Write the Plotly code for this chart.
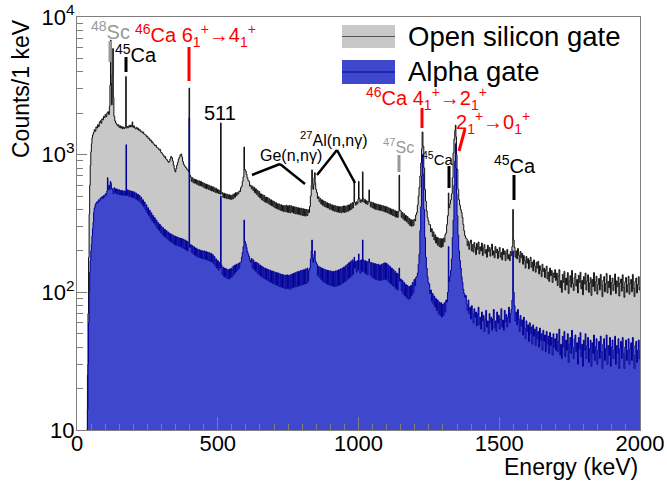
import plotly.graph_objects as go

# ---------------- data ----------------
# Open silicon gate spectrum: (energy keV, counts per 1 keV)
open_gate = [
(35,10),(37,25),(39,70),(41,180),(43,370),(45,600),(47,840),(49,1050),(51,1200),(53,1320),(55,1390),(58,1450),
(61,1520),(64,1480),(67,1590),(70,1560),(73,1650),(76,1600),(79,1720),(82,1760),(85,1690),(88,1820),(91,1790),
(94,1900),(97,1860),(100,1960),(103,1890),(106,2010),(109,2050),(112,1960),(115,2250),(117,3200),(119,6800),
(121,3300),(123,2300),(125,3800),(127,5900),(129,2600),(131,1900),(134,1760),(137,1700),(140,1660),(143,1620),
(146,1650),(149,1580),(152,1620),(155,1560),(158,1600),(161,1540),(164,1590),(167,1550),(170,1580),(173,3690),
(175,1560),(178,1600),(181,1570),(184,1630),(187,1590),(190,1640),(193,1600),(196,1730),(198,1580),(201,1620),
(204,1570),(207,1540),(210,1580),(213,1530),(216,1560),(219,1500),(222,1520),(225,1470),(228,1480),(231,1440),
(234,1460),(237,1410),(240,1400),(243,1390),(246,1350),(249,1360),(252,1310),(255,1320),(258,1270),(261,1280),
(264,1230),(267,1240),(270,1200),(273,1190),(276,1160),(279,1170),(282,1130),(285,1120),(288,1110),(291,1080),
(294,1090),(297,1040),(300,1030),(303,1010),(306,990),(309,960),(312,970),(315,930),(318,920),(321,900),(324,880),
(327,890),(330,930),(333,970),(336,950),(339,900),(342,840),(345,790),(348,750),(351,790),(354,840),(357,880),
(360,930),(363,960),(366,1000),(369,1010),(372,960),(375,890),(378,850),(381,830),(384,815),(387,800),(390,780),
(393,770),(396,750),(398,3050),(400,710),(403,690),(406,640),(409,680),(412,625),(415,665),(418,620),(421,660),
(424,610),(427,650),(430,600),(433,645),(436,595),(439,640),(442,590),(445,628),(448,580),(451,620),(454,570),
(457,612),(460,565),(463,605),(466,560),(469,598),(472,552),(475,590),(478,545),(481,585),(484,540),(487,575),
(490,532),(493,570),(496,528),(499,560),(502,522),(505,548),(508,515),(510,1700),(512,520),(515,530),(518,490),
(521,525),(524,485),(527,520),(530,480),(533,515),(536,478),(539,512),(542,475),(545,508),(548,472),(551,510),
(554,480),(557,520),(560,490),(563,530),(566,505),(569,530),(572,520),(575,545),(578,540),(581,575),(584,590),
(587,640),(590,690),(593,1137),(595,780),(598,760),(601,720),(604,680),(607,650),(610,640),(613,590),(616,600),
(619,565),(622,590),(625,548),(628,580),(631,528),(634,565),(637,515),(640,552),(643,498),(646,540),(649,485),
(652,520),(655,470),(658,512),(661,462),(664,505),(667,452),(670,492),(673,448),(676,488),(679,440),(682,478),
(685,432),(688,470),(691,425),(694,462),(697,418),(700,455),(703,410),(706,448),(709,405),(712,440),(715,400),
(718,438),(721,395),(724,432),(727,390),(730,428),(733,385),(736,425),(739,388),(742,430),(745,382),(748,425),
(751,380),(754,428),(757,378),(760,425),(763,382),(766,420),(769,375),(772,418),(775,372),(778,415),(781,370),
(784,412),(787,368),(790,410),(793,365),(796,408),(799,362),(802,405),(805,360),(808,402),(811,358),(814,400),
(817,362),(820,398),(823,380),(826,420),(829,500),(832,600),(834,775),(836,620),(838,560),(840,600),(842,680),
(844,740),(846,620),(848,560),(851,530),(854,480),(857,495),(860,455),(863,480),(866,438),(869,470),(872,428),
(875,462),(878,420),(881,455),(884,415),(887,448),(890,410),(893,442),(896,402),(899,438),(902,398),(905,432),
(908,392),(911,428),(914,388),(917,425),(920,385),(923,422),(926,382),(929,420),(932,380),(935,418),(938,378),
(941,420),(944,382),(947,425),(950,380),(953,422),(956,385),(959,428),(962,388),(965,432),(968,395),(971,440),
(974,402),(977,448),(980,410),(982,445),(984,655),(986,450),(989,430),(992,455),(995,440),(998,475),(1000,640),
(1002,480),(1005,450),(1008,470),(1011,455),(1014,750),(1016,480),(1019,450),(1022,472),(1025,440),(1028,462),
(1031,435),(1034,455),(1037,555),(1039,455),(1042,418),(1045,452),(1048,412),(1051,448),(1054,405),(1057,442),
(1060,400),(1063,438),(1066,398),(1069,435),(1072,395),(1075,432),(1078,392),(1081,428),(1084,390),(1087,425),
(1090,386),(1093,422),(1096,382),(1099,418),(1102,378),(1105,412),(1108,372),(1111,408),(1114,368),(1117,402),
(1120,362),(1123,398),(1126,358),(1129,392),(1132,352),(1135,388),(1138,350),(1141,385),(1144,710),(1146,395),
(1149,390),(1152,350),(1155,380),(1158,340),(1161,372),(1164,332),(1167,362),(1170,325),(1173,355),(1176,315),
(1179,345),(1182,305),(1185,338),(1188,302),(1191,335),(1194,305),(1197,340),(1200,330),(1203,365),(1206,380),
(1209,430),(1212,500),(1215,580),(1218,700),(1221,870),(1224,1100),(1226,1460),(1229,1150),(1232,800),(1235,560),
(1238,460),(1241,390),(1244,350),(1247,330),(1250,310),(1253,310),(1256,275),(1259,290),(1262,255),(1265,275),
(1268,240),(1271,262),(1274,228),(1277,252),(1280,220),(1283,248),(1286,215),(1289,245),(1292,212),(1295,245),
(1298,215),(1301,248),(1304,232),(1307,262),(1310,270),(1313,310),(1316,360),(1319,527),(1321,410),(1324,440),
(1327,470),(1330,520),(1333,680),(1336,1030),(1339,1300),(1342,1500),(1344,1640),(1346,1350),(1348,1000),
(1350,780),(1353,560),(1356,470),(1359,430),(1362,400),(1365,380),(1368,350),(1371,310),(1374,280),(1377,258),
(1380,248),(1383,245),(1386,218),(1389,236),(1392,205),(1395,228),(1398,240),(1401,200),(1404,222),(1407,196),
(1410,230),(1413,212),(1416,188),(1419,226),(1422,205),(1425,232),(1428,190),(1431,214),(1434,200),(1437,228),
(1440,185),(1443,210),(1446,222),(1449,192),(1452,205),(1455,180),(1458,220),(1461,198),(1464,212),(1467,183),
(1470,206),(1473,224),(1476,186),(1479,200),(1482,178),(1485,215),(1488,194),(1491,206),(1494,176),(1497,198),
(1500,212),(1503,180),(1506,195),(1509,172),(1512,208),(1515,188),(1518,200),(1521,170),(1524,192),(1527,205),
(1530,175),(1533,188),(1536,170),(1539,198),(1542,185),(1545,215),(1548,400),(1550,240),(1553,212),(1556,180),
(1559,200),(1562,175),(1565,208),(1568,186),(1571,165),(1574,198),(1577,178),(1580,192),(1583,160),(1586,185),
(1589,170),(1592,150),(1595,182),(1598,163),(1601,176),(1604,148),(1607,170),(1610,180),(1613,152),(1616,166),
(1619,143),(1622,172),(1625,155),(1628,140),(1631,165),(1634,150),(1637,168),(1640,136),(1643,156),(1646,145),
(1649,130),(1652,160),(1655,142),(1658,150),(1661,128),(1664,146),(1667,155),(1670,125),(1673,140),(1676,120),
(1679,150),(1682,132),(1685,144),(1688,118),(1691,138),(1694,128),(1697,146),(1700,122),(1703,138),(1706,112),
(1709,131),(1712,146),(1715,108),(1718,122),(1721,100),(1724,135),(1727,118),(1730,142),(1733,104),(1736,127),
(1739,113),(1742,139),(1745,98),(1748,121),(1751,132),(1754,109),(1757,144),(1760,116),(1763,103),(1766,128),
(1769,137),(1772,111),(1775,124),(1778,99),(1781,133),(1784,118),(1787,140),(1790,106),(1793,122),(1796,96),
(1799,130),(1802,115),(1805,138),(1808,104),(1811,121),(1814,134),(1817,100),(1820,117),(1823,128),(1826,95),
(1829,124),(1832,110),(1835,139),(1838,102),(1841,119),(1844,131),(1847,97),(1850,114),(1853,126),(1856,104),
(1859,135),(1862,112),(1865,93),(1868,122),(1871,130),(1874,101),(1877,116),(1880,137),(1883,99),(1886,120),
(1889,108),(1892,133),(1895,96),(1898,118),(1901,127),(1904,103),(1907,114),(1910,136),(1913,98),(1916,121),
(1919,110),(1922,129),(1925,94),(1928,117),(1931,125),(1934,102),(1937,134),(1940,109),(1943,92),(1946,119),
(1949,128),(1952,100),(1955,113),(1958,131),(1961,97),(1964,116),(1967,124),(1970,101),(1973,135),(1976,107),
(1979,93),(1982,120),(1985,127),(1988,99),(1991,114),(1994,130),(1997,104),(2000,110),
]

# Alpha gate spectrum: (energy keV, counts per 1 keV)
alpha_gate = [
(35,10),(37,14),(39,30),(41,60),(43,100),(45,140),(47,170),(49,200),(51,225),(53,255),(55,290),(57,324),(59,380),
(61,410),(64,433),(67,445),(70,455),(73,448),(76,470),(79,462),(82,485),(85,478),(88,495),(91,482),(94,505),
(97,495),(100,520),(103,510),(106,545),(108,680),(110,560),(113,600),(115,560),(118,640),(120,620),(122,570),
(125,560),(128,520),(131,575),(134,530),(137,565),(140,520),(143,560),(146,515),(149,555),(152,510),(155,550),
(158,508),(161,548),(164,505),(167,545),(170,505),(172,540),(174,1180),(176,505),(179,555),(182,500),(185,548),
(188,495),(191,545),(194,490),(197,540),(200,485),(203,535),(206,478),(209,525),(212,470),(215,515),(218,462),
(221,505),(224,450),(227,490),(230,435),(233,470),(236,418),(239,452),(242,398),(245,432),(248,378),(251,412),
(254,360),(257,395),(260,345),(263,378),(266,330),(269,362),(272,318),(275,348),(278,305),(281,335),(284,292),
(287,322),(290,282),(293,312),(296,272),(299,302),(302,264),(305,294),(308,256),(311,286),(314,250),(317,280),
(320,244),(323,274),(326,238),(329,268),(332,233),(335,264),(338,228),(341,260),(344,224),(347,256),(350,220),
(353,253),(356,218),(359,250),(362,216),(365,248),(368,214),(371,246),(374,210),(377,243),(380,207),(383,240),
(386,203),(389,236),(392,200),(395,230),(398,1850),(400,212),(403,222),(406,195),(409,218),(412,190),(415,214),
(418,186),(421,210),(424,182),(427,206),(430,180),(433,204),(436,178),(439,202),(442,176),(445,200),(448,175),
(451,200),(454,174),(457,198),(460,172),(463,196),(466,170),(469,194),(472,168),(475,192),(478,166),(481,188),
(484,162),(487,182),(490,155),(493,175),(496,150),(499,170),(502,145),(505,165),(508,150),(510,500),(512,158),
(515,135),(518,152),(521,130),(524,150),(527,128),(530,148),(533,126),(536,146),(539,125),(542,148),(545,128),
(548,150),(551,130),(554,155),(557,135),(560,158),(563,140),(566,160),(569,145),(572,162),(575,150),(578,165),
(581,165),(584,180),(587,195),(590,215),(593,335),(595,235),(598,225),(601,212),(604,198),(607,190),(610,182),
(613,172),(616,165),(619,176),(622,150),(625,172),(628,146),(631,166),(634,142),(637,165),(640,138),(643,162),
(646,134),(649,158),(652,131),(655,155),(658,128),(661,152),(664,126),(667,150),(670,124),(673,148),(676,122),
(679,146),(682,120),(685,145),(688,118),(691,143),(694,116),(697,142),(700,115),(703,140),(706,113),(709,139),
(712,112),(715,138),(718,110),(721,136),(724,109),(727,135),(730,108),(733,134),(736,107),(739,133),(742,106),
(745,134),(748,107),(751,133),(754,105),(757,134),(760,107),(763,136),(766,108),(769,138),(772,109),(775,139),
(778,110),(781,141),(784,111),(787,142),(790,112),(793,144),(796,113),(799,145),(802,114),(805,146),(808,115),
(811,148),(814,116),(817,150),(820,120),(823,145),(826,150),(829,175),(832,200),(834,240),(836,180),(838,165),
(840,175),(842,190),(844,200),(846,170),(848,165),(851,160),(854,132),(857,155),(860,128),(863,152),(866,124),
(869,150),(872,120),(875,148),(878,118),(881,146),(884,116),(887,145),(890,114),(893,144),(896,113),(899,143),
(902,112),(905,142),(908,111),(911,142),(914,110),(917,143),(920,111),(923,144),(926,112),(929,146),(932,113),
(935,148),(938,115),(941,150),(944,117),(947,153),(950,119),(953,156),(956,122),(959,160),(962,125),(965,164),
(968,128),(971,168),(974,132),(977,172),(980,135),(982,165),(984,180),(986,150),(989,168),(992,140),(995,170),
(998,145),(1000,190),(1002,168),(1005,138),(1008,172),(1011,142),(1014,240),(1016,172),(1019,140),(1022,170),
(1025,136),(1028,168),(1031,134),(1034,166),(1037,175),(1039,165),(1042,132),(1045,165),(1048,128),(1051,163),
(1054,126),(1057,162),(1060,124),(1063,160),(1066,123),(1069,160),(1072,122),(1075,158),(1078,122),(1081,160),
(1084,123),(1087,162),(1090,124),(1093,164),(1096,124),(1099,162),(1102,122),(1105,158),(1108,118),(1111,154),
(1114,115),(1117,150),(1120,112),(1123,146),(1126,110),(1129,142),(1132,106),(1135,138),(1138,104),(1141,135),
(1144,150),(1146,120),(1149,125),(1152,102),(1155,122),(1158,97),(1161,118),(1164,94),(1167,114),(1170,91),
(1173,112),(1176,89),(1179,110),(1182,90),(1185,112),(1188,95),(1191,118),(1194,100),(1197,124),(1200,112),
(1203,128),(1206,130),(1209,138),(1212,160),(1215,190),(1218,280),(1221,420),(1224,700),(1226,1000),(1229,720),
(1232,400),(1235,250),(1238,180),(1241,150),(1244,130),(1247,118),(1250,115),(1253,98),(1256,104),(1259,86),
(1262,98),(1265,82),(1268,94),(1271,78),(1274,90),(1277,74),(1280,88),(1283,70),(1286,85),(1289,68),(1292,84),
(1295,66),(1298,82),(1301,68),(1304,84),(1307,72),(1310,88),(1313,85),(1316,100),(1319,215),(1321,120),(1324,130),
(1327,145),(1330,175),(1333,250),(1336,335),(1339,600),(1342,900),(1344,1200),(1346,800),(1348,520),(1350,360),
(1353,260),(1356,200),(1359,170),(1362,150),(1365,130),(1368,118),(1371,105),(1374,98),(1377,92),(1380,95),
(1383,82),(1386,74),(1389,88),(1392,70),(1395,78),(1398,64),(1401,80),(1404,70),(1407,60),(1410,76),(1413,66),
(1416,72),(1419,57),(1422,70),(1425,78),(1428,58),(1431,66),(1434,54),(1437,72),(1440,62),(1443,68),(1446,52),
(1449,64),(1452,74),(1455,56),(1458,62),(1461,50),(1464,70),(1467,60),(1470,66),(1473,53),(1476,64),(1479,75),
(1482,55),(1485,62),(1488,52),(1491,72),(1494,60),(1497,68),(1500,54),(1503,64),(1506,76),(1509,56),(1512,63),
(1515,53),(1518,74),(1521,61),(1524,69),(1527,56),(1530,66),(1533,78),(1536,60),(1539,70),(1542,75),(1545,88),
(1548,200),(1550,100),(1553,80),(1556,62),(1559,72),(1562,58),(1565,75),(1568,64),(1571,52),(1574,68),(1577,57),
(1580,63),(1583,49),(1586,66),(1589,55),(1592,46),(1595,62),(1598,52),(1601,58),(1604,44),(1607,60),(1610,50),
(1613,56),(1616,42),(1619,58),(1622,48),(1625,54),(1628,41),(1631,56),(1634,46),(1637,52),(1640,40),(1643,55),
(1646,45),(1649,50),(1652,38),(1655,53),(1658,44),(1661,49),(1664,37),(1667,52),(1670,42),(1673,48),(1676,36),
(1679,51),(1682,41),(1685,47),(1688,35),(1691,50),(1694,40),(1697,46),(1700,38),(1703,50),(1706,37),(1709,44),
(1712,54),(1715,35),(1718,42),(1721,33),(1724,48),(1727,40),(1730,52),(1733,34),(1736,45),(1739,38),(1742,50),
(1745,31),(1748,42),(1751,47),(1754,36),(1757,53),(1760,40),(1763,33),(1766,46),(1769,49),(1772,37),(1775,43),
(1778,30),(1781,47),(1784,39),(1787,51),(1790,34),(1793,42),(1796,29),(1799,45),(1802,38),(1805,50),(1808,33),
(1811,41),(1814,47),(1817,31),(1820,39),(1823,45),(1826,29),(1829,43),(1832,36),(1835,49),(1838,32),(1841,40),
(1844,46),(1847,30),(1850,38),(1853,44),(1856,33),(1859,48),(1862,37),(1865,28),(1868,42),(1871,46),(1874,32),
(1877,39),(1880,49),(1883,30),(1886,41),(1889,35),(1892,47),(1895,29),(1898,40),(1901,45),(1904,33),(1907,38),
(1910,48),(1913,30),(1916,41),(1919,36),(1922,46),(1925,28),(1928,39),(1931,44),(1934,33),(1937,47),(1940,36),
(1943,28),(1946,40),(1949,45),(1952,32),(1955,38),(1958,46),(1961,30),(1964,39),(1967,43),(1970,32),(1973,47),
(1976,35),(1979,28),(1982,41),(1985,44),(1988,31),(1991,38),(1994,45),(1997,33),(2000,38),
]

series_names = ["Open silicon gate", "Alpha gate"]
x_tick_values = [0, 500, 1000, 1500, 2000]
x_tick_labels = ["0", "500", "1000", "1500", "2000"]
y_tick_values = [10, 100, 1000, 10000]
y_tick_labels = ["10", "10<sup>2</sup>", "10<sup>3</sup>", "10<sup>4</sup>"]
y_minor_values = [m * d for d in (10, 100, 1000) for m in range(2, 10)]

open_E = [p[0] for p in open_gate]
open_counts = [p[1] for p in open_gate]
alpha_E = [p[0] for p in alpha_gate]
alpha_counts = [p[1] for p in alpha_gate]

# ---------------- figure ----------------
FONT = "Liberation Sans, Arial, Helvetica, sans-serif"
GRAY_FILL = "#c8c8c8"
BLUE_FILL = "#3f48cc"
BLUE_LINE = "#000099"
AX = "#7f7f7f"
RED = "#ff0000"
LABEL_GRAY = "#999999"

fig = go.Figure()
fig.add_trace(go.Scatter(x=open_E, y=open_counts, mode="lines", line_shape="hv",
                         line=dict(color="#111111", width=1), fill="tozeroy",
                         fillcolor=GRAY_FILL, name=series_names[0]))
fig.add_trace(go.Scatter(x=alpha_E, y=alpha_counts, mode="lines", line_shape="hv",
                         line=dict(color=BLUE_LINE, width=1), fill="tozeroy",
                         fillcolor=BLUE_FILL, name=series_names[1]))

L, R, T, B = 77, 640, 17, 430
W, H = 667, 483


def px(x):
    return (x - L) / (R - L)


def py(y):
    return (B - y) / (B - T)


annotations = []
shapes = []


def label(text, x, y, size, color="black", xanchor="center"):
    annotations.append(dict(text=text, x=px(x), y=py(y), xref="paper", yref="paper",
                            showarrow=False, xanchor=xanchor, yanchor="middle",
                            font=dict(family=FONT, size=size, color=color)))


def seg(x0, y0, x1, y1, color="black", width=3):
    shapes.append(dict(type="line", xref="paper", yref="paper", x0=px(x0), y0=py(y0),
                       x1=px(x1), y1=py(y1), line=dict(color=color, width=width)))


# peak labels
label("<sup>48</sup>Sc", 110, 30, 20, LABEL_GRAY)
seg(110, 41, 110, 62, LABEL_GRAY)
label("<sup>45</sup>Ca", 136, 53, 20)
seg(126, 57, 126, 72)
label("<sup>46</sup>Ca 6<sub>1</sub><sup>+</sup>→4<sub>1</sub><sup>+</sup>", 195, 35, 20, RED)
seg(189, 47, 189, 81, RED)
label("511", 220, 113, 20)
label("Ge(n,nγ)", 291, 155, 16)
seg(252, 175, 280, 164, width=2.5)
seg(280, 164, 305, 184, width=2.5)
label("<sup>27</sup>Al(n,nγ)", 334, 139, 16)
seg(317, 175, 337, 150, width=2.5)
seg(337, 150, 355, 183, width=2.5)
label("<sup>47</sup>Sc", 398, 146, 16, LABEL_GRAY)
seg(399, 155, 399, 172, LABEL_GRAY)
label("<sup>46</sup>Ca 4<sub>1</sub><sup>+</sup>→2<sub>1</sub><sup>+</sup>", 426, 98, 20, RED)
seg(422, 108, 422, 128, RED)
label("2<sub>1</sub><sup>+</sup>→0<sub>1</sub><sup>+</sup>", 493, 122, 20, RED)
seg(465, 129, 459, 151, RED)
label("<sup>45</sup>Ca", 438, 158, 15)
seg(449, 166, 449, 188)
label("<sup>45</sup>Ca", 515, 164, 20)
seg(514, 175, 514, 200)

# legend (drawn manually to match swatch size)
for (y0, y1, ty, fillc, linec, name) in [(25, 48, 36, GRAY_FILL, "#555555", series_names[0]),
                                         (60, 84, 71, BLUE_FILL, BLUE_LINE, series_names[1])]:
    shapes.append(dict(type="rect", xref="paper", yref="paper", x0=px(342), x1=px(395),
                       y0=py(y1), y1=py(y0), fillcolor=fillc, line=dict(width=0)))
    seg(342, (y0 + y1) / 2, 395, (y0 + y1) / 2, linec, 1)
    label(name, 406, ty, 27.5, "black", xanchor="left")

# axis titles
annotations.append(dict(text="Energy (keV)", x=1.0, y=py(467), xref="paper", yref="paper",
                        showarrow=False, xanchor="right", yanchor="middle",
                        font=dict(family=FONT, size=23, color="black")))
annotations.append(dict(text="Counts/1 keV", x=px(21), y=py(89), xref="paper", yref="paper",
                        showarrow=False, xanchor="center", yanchor="middle", textangle=-90,
                        font=dict(family=FONT, size=23, color="black")))

fig.update_layout(
    width=W, height=H,
    margin=dict(l=L, r=W - R, t=T, b=H - B, autoexpand=False),
    plot_bgcolor="white", paper_bgcolor="white",
    showlegend=False,
    font=dict(family=FONT, color="black"),
    annotations=annotations, shapes=shapes,
    xaxis=dict(range=[0, 2000], automargin=False, showgrid=False, zeroline=False, showline=True,
               linecolor=AX, linewidth=1, mirror=True, ticks="inside", ticklen=13,
               tickcolor=AX, tickwidth=1, tickmode="array", tickvals=x_tick_values,
               ticktext=x_tick_labels, tickfont=dict(family=FONT, size=22, color="black"),
               ticklabelstandoff=-6,
               minor=dict(ticks="inside", ticklen=6, dtick=50, tick0=0, tickcolor=AX,
                          tickwidth=1, showgrid=False)),
    yaxis=dict(type="log", range=[1, 4], automargin=False, showgrid=False, zeroline=False,
               showline=True, linecolor=AX, linewidth=1, mirror=True, ticks="inside",
               ticklen=10, tickcolor=AX, tickwidth=1, tickmode="array",
               tickvals=y_tick_values, ticktext=y_tick_labels,
               tickfont=dict(family=FONT, size=22, color="black"), ticklabelstandoff=-3,
               minor=dict(ticks="inside", ticklen=6, tickmode="array",
                          tickvals=y_minor_values, tickcolor=AX, tickwidth=1,
                          showgrid=False)),
)

fig.write_html("out.html")
